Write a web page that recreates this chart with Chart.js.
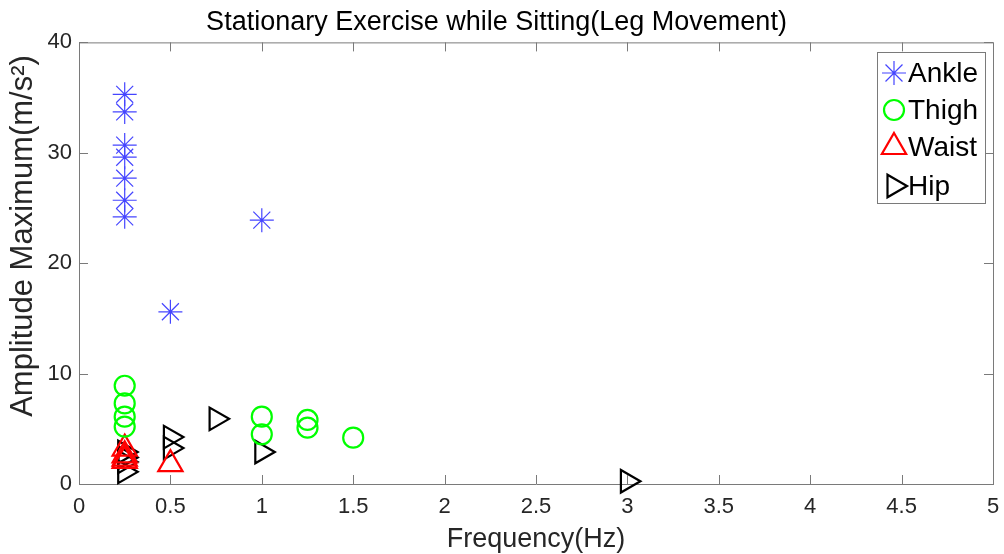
<!DOCTYPE html>
<html>
<head>
<meta charset="utf-8">
<script src="https://cdn.jsdelivr.net/npm/chart.js@4.4.1/dist/chart.umd.min.js"></script>
<style>
  html, body { margin: 0; padding: 0; background: #fff; }
</style>
</head>
<body>
<canvas id="scatterChart" width="1004" height="554"></canvas>
<script>
// values
const ankleX = [0.25, 0.25, 0.25, 0.25, 0.25, 0.25, 0.25, 0.5, 1];
const ankleY = [35.3, 33.7, 30.7, 29.6, 27.7, 25.7, 24.2, 15.6, 23.9];
const thighX = [0.25, 0.25, 0.25, 0.25, 1, 1, 1.25, 1.25, 1.5];
const thighY = [8.9, 7.3, 6.1, 5.2, 6.1, 4.5, 5.8, 5.1, 4.2];
const waistX = [0.25, 0.25, 0.25, 0.25, 0.5];
const waistY = [3.2, 2.6, 2.3, 2.1, 1.8];
const hipX = [0.25, 0.25, 0.25, 0.25, 0.5, 0.5, 0.75, 1, 3];
const hipY = [2.9, 2.4, 2.0, 1.1, 4.25, 3.25, 5.9, 2.9, 0.25];

const xTicks = [0, 0.5, 1, 1.5, 2, 2.5, 3, 3.5, 4, 4.5, 5];
const yTicks = [0, 10, 20, 30, 40];

function pts(xs, ys) {
  return xs.map((x, i) => ({ x: x, y: ys[i] }));
}

const FONT = 'Liberation Sans, Arial, Helvetica, sans-serif';
const AXIS = '#7a7a7a';

// MATLAB style: inward ticks on all four sides, box, axis labels, legend in the corner
const matlabLook = {
  id: 'matlabLook',
  afterDraw(chart) {
    const ctx = chart.ctx;
    const a = chart.chartArea;
    const xs = chart.scales.x, ys = chart.scales.y;
    ctx.save();
    ctx.strokeStyle = AXIS;
    ctx.lineWidth = 1;
    ctx.beginPath();
    ctx.moveTo(a.left, a.top + 0.5); ctx.lineTo(a.right + 0.5, a.top + 0.5);
    ctx.lineTo(a.right + 0.5, a.bottom);
    xTicks.forEach(v => {
      const px = Math.round(xs.getPixelForValue(v)) + 0.5;
      ctx.moveTo(px, a.bottom); ctx.lineTo(px, a.bottom - 9);
      ctx.moveTo(px, a.top); ctx.lineTo(px, a.top + 9);
    });
    yTicks.forEach(v => {
      const py = Math.round(ys.getPixelForValue(v)) + 0.5;
      ctx.moveTo(a.left, py); ctx.lineTo(a.left + 9, py);
      ctx.moveTo(a.right, py); ctx.lineTo(a.right - 9, py);
    });
    ctx.stroke();

    // axis titles
    ctx.fillStyle = '#262626';
    ctx.font = '27px ' + FONT;
    ctx.textAlign = 'center';
    ctx.textBaseline = 'alphabetic';
    ctx.fillText('Frequency(Hz)', (a.left + a.right) / 2, 547);
    ctx.save();
    ctx.translate(32, 236);
    ctx.rotate(-Math.PI / 2);
    ctx.font = '31px ' + FONT;
    ctx.fillText('Amplitude Maximum(m/s²)', 0, 0);
    ctx.restore();

    // legend box
    ctx.fillStyle = '#fff';
    ctx.fillRect(877, 52, 108, 151);
    ctx.strokeStyle = AXIS;
    ctx.strokeRect(877.5, 52.5, 108, 151);
    const rows = [73, 110, 147, 186];
    chart.data.datasets.forEach((ds, i) => {
      ctx.strokeStyle = ds.borderColor;
      ctx.fillStyle = 'rgba(0,0,0,0)';
      ctx.lineWidth = ds.borderWidth;
      Chart.helpers.drawPoint(ctx, {
        pointStyle: ds.pointStyle, radius: ds.pointRadius,
        rotation: ds.rotation || 0, borderWidth: ds.borderWidth
      }, 894, rows[i]);
      ctx.fillStyle = '#000';
      ctx.font = '28px ' + FONT;
      ctx.textAlign = 'left';
      ctx.textBaseline = 'middle';
      ctx.fillText(ds.label, 908, rows[i] + 1);
    });
    ctx.restore();
  }
};

const ctx = document.getElementById('scatterChart').getContext('2d');
const chart = new Chart(ctx, {
  type: 'scatter',
  data: {
    datasets: [
      { label: 'Ankle', data: pts(ankleX, ankleY), pointStyle: 'star', pointRadius: 12,
        borderColor: '#4545ff', backgroundColor: 'rgba(0,0,0,0)', borderWidth: 1.2, clip: false },
      { label: 'Thigh', data: pts(thighX, thighY), pointStyle: 'circle', pointRadius: 10,
        borderColor: '#00ff00', backgroundColor: 'rgba(0,0,0,0)', borderWidth: 2.2, clip: false },
      { label: 'Waist', data: pts(waistX, waistY), pointStyle: 'triangle', pointRadius: 14,
        borderColor: '#ff0000', backgroundColor: 'rgba(0,0,0,0)', borderWidth: 2.2, clip: false },
      { label: 'Hip', data: pts(hipX, hipY), pointStyle: 'triangle', pointRadius: 13, rotation: 90,
        borderColor: '#000000', backgroundColor: 'rgba(0,0,0,0)', borderWidth: 2.2, clip: false }
    ]
  },
  options: {
    responsive: false,
    animation: false,
    layout: { autoPadding: false, padding: { left: 0, right: 11, top: 0, bottom: 0 } },
    plugins: {
      legend: { display: false },
      tooltip: { enabled: false },
      title: {
        display: true,
        text: 'Stationary Exercise while Sitting(Leg Movement)',
        color: '#000',
        font: { family: FONT, size: 27, weight: 'normal', lineHeight: 1.2 },
        padding: { top: 6, bottom: 4 }
      }
    },
    scales: {
      x: {
        type: 'linear', min: 0, max: 5,
        afterFit: s => { s.height = 70; },
        afterBuildTicks: s => { s.ticks = xTicks.map(v => ({ value: v })); },
        ticks: { color: '#262626', font: { family: FONT, size: 22 }, padding: 0, maxRotation: 0,
          callback: v => String(v) },
        grid: { display: true, drawOnChartArea: false, drawTicks: true, tickLength: 10,
          tickColor: 'rgba(0,0,0,0)' },
        border: { display: true, color: AXIS, width: 1 }
      },
      y: {
        type: 'linear', min: 0, max: 40,
        afterFit: s => { s.width = 79; },
        afterBuildTicks: s => { s.ticks = yTicks.map(v => ({ value: v })); },
        ticks: { color: '#262626', font: { family: FONT, size: 22 }, padding: 7,
          callback: v => String(v) },
        grid: { display: true, drawOnChartArea: false, drawTicks: false },
        border: { display: true, color: AXIS, width: 1 }
      }
    }
  },
  plugins: [matlabLook]
});
</script>
</body>
</html>
